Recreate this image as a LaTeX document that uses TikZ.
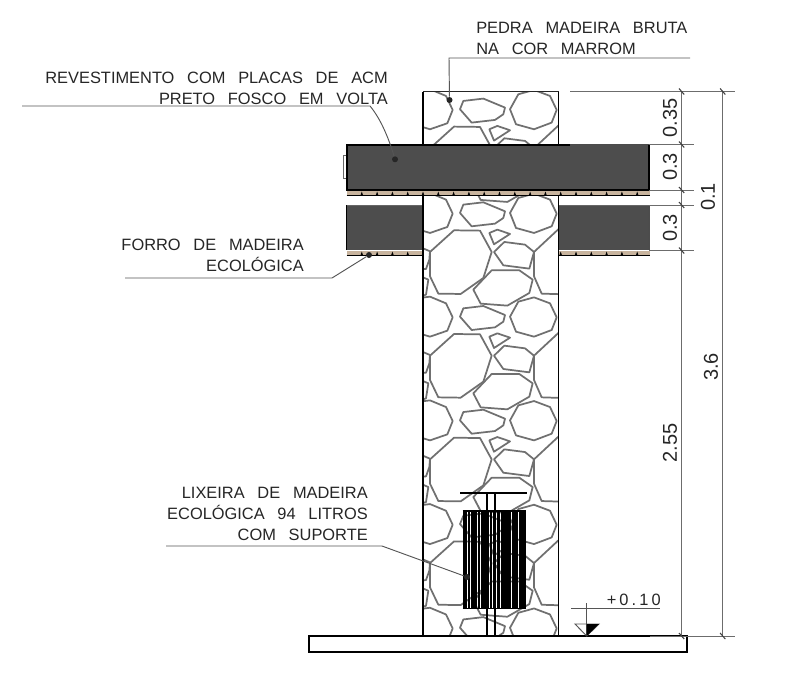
\documentclass[tikz,border=0pt]{standalone}
\usepackage{fontspec}
\setmainfont{Liberation Sans}[WordSpace=2.8]
\definecolor{bandgray}{HTML}{4D4D4D}
\definecolor{stonegray}{HTML}{707070}
\definecolor{tan}{HTML}{C8B49E}
\definecolor{leader}{HTML}{555555}
\tikzset{
  stone/.style={draw=stonegray,line width=1.3pt,line join=round},
  dimline/.style={draw=gray!85!black,line width=.7pt},
  leadline/.style={draw=leader,line width=.7pt},
  dot/.style={circle,fill=black!85,inner sep=0pt,minimum size=4.5pt},
  label/.style={font=\fontsize{12.3}{12.3}\selectfont,text=black!85,inner sep=0pt},
  dimtext/.style={font=\fontsize{15}{15}\selectfont,text=black!85,inner sep=0pt,rotate=90},
  band/.style={fill=bandgray},
}
\newcommand{\soffit}[3]{% x0 x1 y
  \fill[tan] (#1,#3) rectangle (#2,#3+4.5);
  \draw[black,line width=.5pt] (#1,#3+4.5) -- (#2,#3+4.5);
}
\newcommand{\soffitticks}[3]{%
  \pgfmathsetmacro{\nn}{int((#2-#1)/15.3)}
  \foreach \ti in {1,...,\nn}{
    \pgfmathsetmacro{\tx}{#1+\ti*15.3}
    \fill[black] (\tx-1.2,#3+4.5) -- (\tx,#3+1) -- (\tx+1.2,#3+4.5) -- cycle;
  }
}
\begin{document}
\begin{tikzpicture}[x=.75pt,y=-.75pt]
\useasboundingbox (0,0) rectangle (795,674);
\fill[white] (0,0) rectangle (795,674);
% lower band
\fill[band] (346.5,205) rectangle (649,250);
\draw[black,line width=.7pt] (346.5,205) -- (346.5,250);
\draw[black!70,line width=.8pt] (649,205) -- (649,250);
\draw[black!60,line width=.6pt] (346.5,205) -- (649,205);
\soffit{346.5}{649.5}{250.5}
\soffitticks{346.5}{649.5}{250.5}
% wall
\fill[white] (423,92) rectangle (558.5,636);
\begin{scope}
\clip (423,92) rectangle (558.5,636);
\foreach \k in {-2,...,3}{
\begin{scope}[shift={(410,{190+\k*103.7})},x=.25pt,y=-.25pt]
 \draw[stone] (20,325) -- (60,320) -- (108,340) -- (128,382) -- (112,422) -- (60,440) -- (20,428);
 \draw[stone] (150,380) -- (160,355) -- (220,348) -- (285,375) -- (280,395) -- (255,412) -- (185,420) -- cycle;
 \draw[stone] (300,380) -- (325,335) -- (372,322) -- (420,340) -- (440,382) -- (425,420) -- (372,440) -- (318,425) -- cycle;
 \draw[stone] (238,440) -- (262,430) -- (300,443) -- (252,474) -- cycle;
 \draw[stone] (60,497) -- (132,432) -- (210,433) -- (245,497) -- (220,575) -- (152,623) -- (85,622) -- (60,570) -- cycle;
 \draw[stone] (20,478) -- (60,495) -- (58,520) -- (48,548) -- (20,550);
 \draw[stone] (20,565) -- (55,580) -- (48,625) -- (20,635);
 \draw[stone] (252,497) -- (283,467) -- (345,475) -- (372,497) -- (358,547) -- (280,537) -- cycle;
 \draw[stone] (190,610) -- (245,552) -- (328,552) -- (368,580) -- (358,620) -- (292,658) -- (212,652) -- cycle;
 \draw[stone] (460,415) -- (372,497) -- (372,570) -- (395,622) -- (460,624);
\end{scope}}
\end{scope}
\draw[black,line width=.9pt] (423,92) -- (423,145);
\draw[black,line width=.9pt] (423,190) -- (423,636);
\draw[black,line width=.9pt] (558.5,92) -- (558.5,145);
\draw[black,line width=.9pt] (558.5,190) -- (558.5,636);
\draw[black!85,line width=.9pt] (423,91.5) -- (558.5,91.5);
% upper band
\draw[black!60,line width=.6pt] (343.3,155) rectangle (346.5,178);
\fill[band] (346.5,144.5) rectangle (649,190);
\draw[black,line width=1.5pt] (570,144.5) -- (346.5,144.5) -- (346.5,190) -- (649,190) -- (649,144.5);
\draw[black!70,line width=.8pt] (570,144.5) -- (649,144.5);
\soffit{346.5}{650}{190.5}
\soffitticks{346.5}{650}{190.5}
% base slab
\draw[black,line width=1pt] (309,636) rectangle (687,652);
% bin
\draw[black,line width=.8pt] (487,493) -- (487,636);
\draw[black,line width=.8pt] (495,493) -- (495,636);
\draw[black,line width=.9pt,dash pattern=on 8pt off .3pt] (460,493) -- (527,493);
\foreach \xa/\xb in {462.7/465.8,466.2/467.3,467.7/470.3,470.7/474.8,475.2/477.3,477.7/480.3,480.7/483.8,484.2/489.3,489.7/492.3,492.7/496.3,496.7/500.3,500.7/504.8,505.2/506.8,507.2/511.3,511.7/513.8,514.2/516.5,516.9/518.3,518.7/525.5}{
  \fill[black] (\xa,511) rectangle (\xb,608.5);
}
\draw[black,line width=1.1pt] (462.7,511) -- (525.5,511);
\draw[black,line width=1.2pt] (462.7,608.5) -- (525.5,608.5);
% dimension lines
\coordinate (dA) at (681.6,91.5); \coordinate (dB) at (681.6,636);
\coordinate (eA) at (722.7,91.5); \coordinate (eB) at (722.7,636);
\draw[dimline] (dA) -- (dB);
\draw[dimline] (eA) -- (eB);
\draw[dimline] (570,91.5) -- (735,91.5);
\draw[dimline] (649,144.5) -- (694,144.5);
\draw[dimline] (649,190) -- (694,190);
\draw[dimline] (649,205) -- (694,205);
\draw[dimline] (649,250.5) -- (694,250.5);
\draw[dimline] (650,636) -- (735,636);
\foreach \ty in {91.5,144.5,190,205,250.5,636}{
  \draw[black!75,line width=.8pt] (679,\ty-3) -- (684.2,\ty+3);
}
\foreach \ty in {91.5,636}{
  \draw[black!75,line width=.8pt] (720.1,\ty-3) -- (725.3,\ty+3);
}
\node[dimtext] (d1) at (670,118) {0.35};
\node[dimtext] (d2) at (670,167) {0.3};
\node[dimtext] (d3) at (708,197) {0.1};
\node[dimtext] (d4) at (670,228) {0.3};
\node[dimtext] (d5) at (670,443) {2.55};
\node[dimtext] (d6) at (711,367) {3.6};
% level mark
\coordinate (lv) at (586.7,636);
\draw[leadline] (571,608.5) -- (660,608.5);
\draw[leadline] (586.7,603) -- (lv);
\draw[leadline] (575,624) -- (599,624) -- (lv) -- cycle;
\fill[black] (586.7,624) -- (599,624) -- (lv) -- cycle;
\node[label,anchor=base east] (lvt) at (661,605) {\addfontfeature{LetterSpace=19}+0.10};
% leaders and labels
\node[label,anchor=base west] (p1) at (476,34) {PEDRA MADEIRA BRUTA};
\node[label,anchor=base west] (p2) at (476,55) {NA COR MARROM};
\node[dot] (pd) at (449.5,100) {};
\coordinate (pe) at (690,58);
\draw[leadline] (pe) -- (449,58) -- (pd);
\node[label,anchor=base east] (r1) at (388,84) {REVESTIMENTO COM PLACAS DE ACM};
\node[label,anchor=base east] (r2) at (388,104) {PRETO FOSCO EM VOLTA};
\node[dot] (rd) at (395,159.3) {};
\coordinate (rs) at (22,106);
\draw[leadline] (rs) -- (370,106) .. controls (380,118) and (388,136) .. (rd);
\node[label,anchor=base east] (f1) at (304,250) {FORRO DE MADEIRA};
\node[label,anchor=base east] (f2) at (304,271) {ECOLÓGICA};
\node[dot] (fd) at (369,255) {};
\coordinate (fs) at (125,278);
\draw[leadline] (fs) -- (332,278) -- (fd);
\node[label,anchor=base east] (l1) at (368,498) {LIXEIRA DE MADEIRA};
\node[label,anchor=base east] (l2) at (368,519) {ECOLÓGICA 94 LITROS};
\node[label,anchor=base east] (l3) at (368,540) {COM SUPORTE};
\node[dot] (ld) at (467,577) {};
\coordinate (ls) at (166,546);
\draw[leadline] (ls) -- (382,546) -- (ld);
\end{tikzpicture}
\end{document}
